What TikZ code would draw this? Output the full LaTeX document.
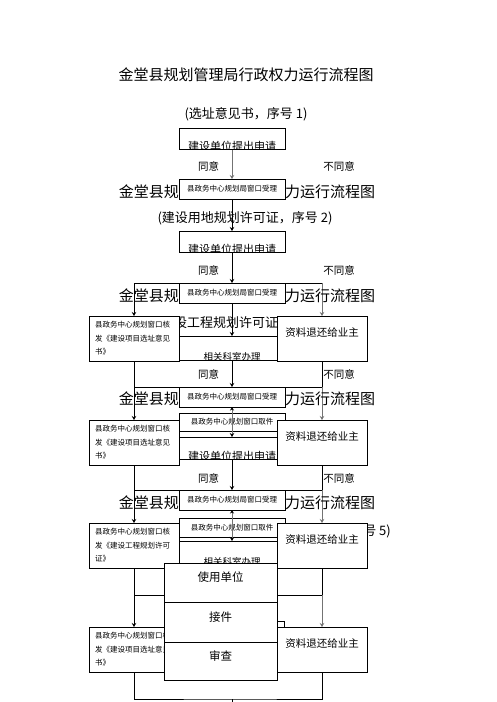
\documentclass[tikz,border=0pt]{standalone}
\usepackage{fontspec}
\setmainfont{Noto Sans CJK SC}
\usepackage{tikz}
\usetikzlibrary{arrows.meta, positioning, backgrounds}
\tikzset{
  maintitle/.style={font=\fontsize{15}{15}\selectfont, inner sep=0pt},
  subtitle/.style={font=\fontsize{13}{13}\selectfont, inner sep=0pt},
  answer/.style={font=\fontsize{10.5}{11}\selectfont, inner sep=0pt},
  windowbox/.style={
    rectangle, minimum width=106pt, minimum height=20pt, inner sep=0pt, outer sep=0pt,
    text centered, draw=black, fill=white, line width=0.8pt,
    font=\fontsize{7.5}{8}\selectfont
  },
  pickbox/.style={windowbox, minimum height=18pt},
  applybox/.style={
    rectangle, minimum width=106pt, minimum height=21pt, inner sep=0pt, outer sep=0pt,
    draw=black, fill=white, line width=0.8pt
  },
  officebox/.style={applybox, minimum height=24pt},
  applytext/.style={font=\fontsize{11}{12}\selectfont, inner sep=0pt},
  officetext/.style={font=\fontsize{9.5}{10}\selectfont, inner sep=0pt},
  issuebox/.style={
    rectangle, minimum width=90pt, minimum height=45pt, inner sep=0pt, outer sep=0pt,
    text width=78pt, align=left, draw=black, fill=white, line width=0.8pt,
    font=\fontsize{7.5}{13.5}\selectfont
  },
  returnbox/.style={
    rectangle, minimum width=90pt, minimum height=45pt, inner sep=0pt, outer sep=0pt,
    text centered, text height=8pt, text depth=13pt,
    draw=black, fill=white, line width=0.8pt,
    font=\fontsize{10.5}{12}\selectfont
  },
  tablerow/.style={
    rectangle, minimum width=113pt, inner sep=0pt, outer sep=0pt,
    text centered, text height=8pt, text depth=10pt,
    draw=black, fill=white, line width=0.8pt,
    font=\fontsize{11.5}{12}\selectfont
  },
  arrow/.style={
    -{Stealth[length=4pt,width=4.5pt]}, line width=1pt, draw=black
  },
  grayarrow/.style={arrow, draw=black!55},
  pickarrow/.style={
    {Stealth[length=3.5pt,width=4pt,black]}-{Stealth[length=4pt,width=4.5pt,black]},
    line width=1pt, draw=black!55
  },
  bracket/.style={line width=0.8pt, draw=black}
}

\begin{document}
\begin{tikzpicture}[x=1pt, y=-1pt]
\useasboundingbox (0,0) rectangle (496,702);

% Titel
\node (title1) [maintitle] at (246,75) {金堂县规划管理局行政权力运行流程图};
\foreach \y [count=\i from 2] in {192,296,399,503} {
  \node (titleleft\i) [maintitle, anchor=east] at (179,\y) {金堂县规};
  \node (titleright\i) [maintitle, anchor=west] at (285,\y) {力运行流程图};
}
\node (sub1) [subtitle] at (246,114) {(选址意见书，序号 1)};
\node (sub2) [subtitle] at (245,218) {(建设用地规划许可证，序号 2)};
\node (sub3) [subtitle, anchor=west] at (174,323) {设工程规划许可证};
\node (sub5) [subtitle, anchor=east] at (391,531) {号 5)};

%同意 / 不同意
\foreach \y [count=\i] in {166,270,374,478} {
  \node (yes\i) [answer] at (208.5,\y) {同意};
  \node (no\i) [answer] at (339,\y) {不同意};
}

% Mittlere Spalte
\node (apply1) [applybox] at (232,138.5) {};
\node (window1) [windowbox, below=30pt of apply1] {县政务中心规划局窗口受理};
\node (apply2) [applybox, below=32pt of window1] {};
\node (window2) [windowbox, below=31pt of apply2] {县政务中心规划局窗口受理};
\node (office1) [officebox, below=33pt of window2] {};
\node (window3) [windowbox, below=27pt of office1] {县政务中心规划局窗口受理};
\node (pick1) [pickbox, below=6pt of window3] {县政务中心规划窗口取件};
\node (apply3) [applybox, minimum height=22pt, below=6pt of pick1] {};
\node (window4) [windowbox, below=31pt of apply3] {县政务中心规划局窗口受理};
\node (pick2) [pickbox, minimum height=19pt, below=8pt of window4] {县政务中心规划窗口取件};
\node (office2) [officebox, below=4pt of pick2] {};
\node (pick3) [pickbox, minimum height=19pt] at (231.5,630.5) {};

% abgeschnittene Texte
\foreach \boxname/\boxtext/\txtsty in {apply1/建设单位提出申请/applytext,
    apply2/建设单位提出申请/applytext, office1/相关科室办理/officetext,
    apply3/建设单位提出申请/applytext, office2/相关科室办理/officetext} {
  \begin{scope}
    \clip (\boxname.south west) rectangle (\boxname.north east);
    \node (\boxname-label) [\txtsty] at ([yshift=3pt]\boxname.south) {\boxtext};
  \end{scope}
}

% Linke und rechte Spalte
\node (issue1) [issuebox] at (134,338.5) {县政务中心规划窗口核\\发《建设项目选址意见\\书》};
\node (issue2) [issuebox, below=59pt of issue1] {县政务中心规划窗口核\\发《建设项目选址意见\\书》};
\node (issue3) [issuebox, below=58pt of issue2] {县政务中心规划窗口核\\发《建设工程规划许可\\证》};
\node (issue4) [issuebox, below=59pt of issue3] {县政务中心规划窗口核\\发《建设项目选址意见\\书》};
\node (return1) [returnbox, right=98pt of issue1] {资料退还给业主};
\node (return2) [returnbox, right=98pt of issue2] {资料退还给业主};
\node (return3) [returnbox, right=98pt of issue3] {资料退还给业主};
\node (return4) [returnbox, right=98pt of issue4] {资料退还给业主};

\coordinate (join5) at (232,595);
\coordinate (join6) at (232,699);

% Pfeile durch die Abholfenster
\draw [pickarrow] (window3) -- (apply3);
\draw [pickarrow] (window4) -- (office2);

% Tabelle
\node (row1) [tablerow, minimum height=39pt, anchor=north] at (220.5,563) {使用单位};
\node (row2) [tablerow, minimum height=40pt, below=0pt of row1] {接件};
\node (row3) [tablerow, minimum height=38pt, below=0pt of row2] {审查};

\begin{scope}[on background layer]
% Mitte
\draw [grayarrow] (apply1) -- (window1);
\draw [arrow] (window1) -- (apply2);
\draw [arrow] (apply2) -- (window2);
\draw [arrow] (window2) -- (office1);
\draw [arrow] (office1) -- (window3);
\draw [arrow] (apply3) -- (window4);

% Verzweigungen
\draw [bracket] (issue1 |- window2.north) -- (return1 |- window2.north);
\draw [bracket] (issue1) |- (window3.north) -| (return1);
\draw [bracket] (issue2) |- (window4.north) -| (return2);
\draw [bracket] (issue3) |- (join5) -| (return3);
\draw [bracket] (issue4) |- (join6) -| (return4);
\draw [bracket] (join6) -- ++(0,6);

\draw [arrow] (issue1 |- window2.north) -- (issue1);
\draw [grayarrow] (return1 |- window2.north) -- (return1);
\draw [arrow] (issue1 |- window3.north) -- (issue2);
\draw [grayarrow] (return1 |- window3.north) -- (return2);
\draw [arrow] (issue2 |- window4.north) -- (issue3);
\draw [grayarrow] (return2 |- window4.north) -- (return3);
\draw [arrow] (issue3 |- join5) -- (issue4);
\draw [grayarrow] (return3 |- join5) -- (return4);
\end{scope}

\end{tikzpicture}
\end{document}
